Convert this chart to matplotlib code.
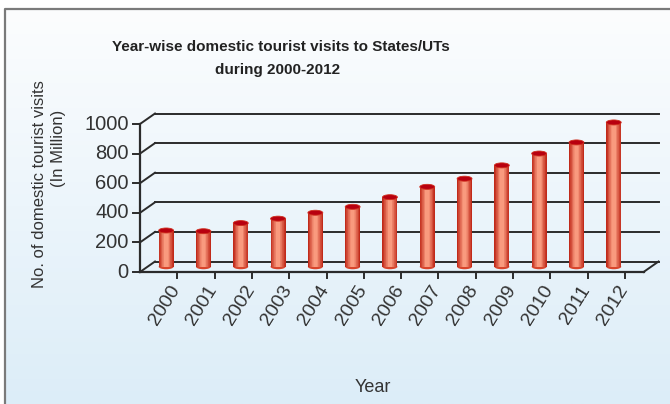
import numpy as np
import matplotlib
matplotlib.use("Agg")
from matplotlib import pyplot as plt
from matplotlib.patches import Ellipse
from matplotlib.colors import to_rgb

years = ['2000', '2001', '2002', '2003', '2004', '2005', '2006',
         '2007', '2008', '2009', '2010', '2011', '2012']
visits = [245, 240, 295, 325, 365, 405, 470, 540, 595, 685, 765, 840, 975]
y_ticks = [0, 200, 400, 600, 800, 1000]

W, H = 670, 404
plt.rcParams['font.family'] = ['Liberation Sans', 'DejaVu Sans']

fig = plt.figure(figsize=(W / 100, H / 100), dpi=100)

# background panel with light blue gradient and grey frame
bg = fig.add_axes([0, 0, 1, 1])
bg.set_xlim(0, W)
bg.set_ylim(H, 0)
bg.axis('off')
top_c = np.array(to_rgb('#fcfdfe'))
bot_c = np.array(to_rgb('#dcedf8'))
t = np.linspace(0, 1, 256)[:, None]
grad = (top_c * (1 - t) + bot_c * t)[:, None, :]
bg.imshow(grad, extent=(5, W, H, 9), aspect='auto', zorder=0)
bg.plot([4.5, 4.5, W], [H, 8.5, 8.5], color='#7a7a7a', lw=1.6, zorder=1)

# main plotting axes, mapped to pixel layout of the pseudo 3d chart
x0, unit = 140.0, 37.3      # front axis x and px per category
y0, scale = 272.0, 0.148    # baseline y and px per million
ax = fig.add_axes([0, 0, 1, 1])
ax.patch.set_alpha(0)
ax.set_xlim(-x0 / unit, (W - x0) / unit)
ax.set_ylim((y0 - H) / scale, y0 / scale)
ax.axis('off')

DX = 15 / unit
DY = 10.5 / scale
n = len(years)
xend = n + 0.5
line_c = '#2b2b2b'

# back wall grid + left wall diagonals
for v in y_ticks:
    ax.plot([DX, xend + DX], [v + DY, v + DY], color=line_c, lw=1.4, zorder=2)
    ax.plot([0, DX], [v, v + DY], color=line_c, lw=1.4, zorder=2)
    ax.plot([-0.18, 0], [v, v], color=line_c, lw=1.4, zorder=2)
    ax.text(-0.3, v, str(v), ha='right', va='center', fontsize=14.5,
            color='#333333')

# front axis and floor
ax.plot([0, 0], [0, 1000], color=line_c, lw=1.6, zorder=2)
ax.plot([0, xend], [0, 0], color=line_c, lw=1.6, zorder=5)
ax.plot([xend, xend + DX], [0, DY], color=line_c, lw=1.4, zorder=2)
for i in range(1, n + 1):
    ax.plot([i, i], [0, -6 / scale], color=line_c, lw=1.4, zorder=2)

# cylinders
pos = np.arange(n) + 0.5 + DX / 2
bw = 0.4
dark = np.array(to_rgb('#c02a1a'))
light = np.array(to_rgb('#f99a7e'))
layers = 10
for k in range(layers):
    f = k / (layers - 1)
    col = dark * (1 - f) + light * f
    ax.bar(pos, visits, width=bw * (1 - 0.85 * k / layers), bottom=DY / 2,
           color=col, linewidth=0, zorder=3)
cap_h = 5 / scale
for p, v in zip(pos, visits):
    ax.add_patch(Ellipse((p, DY / 2), bw, cap_h, color='#d9452c', lw=0, zorder=2.9))
    ax.add_patch(Ellipse((p, v + DY / 2), bw, cap_h, facecolor='#b8000f',
                         edgecolor='#d0301f', lw=0.6, zorder=4))

# year labels
for i, yr in enumerate(years):
    ax.text(i + 0.78, -70, yr, rotation=58, rotation_mode='anchor',
            ha='right', va='top', fontsize=14, color='#333333')

fig.text(281 / W, 1 - 47 / H, 'Year-wise domestic tourist visits to States/UTs',
         ha='center', va='center', fontsize=11, fontweight='bold', color='#222222')
fig.text(278 / W, 1 - 70 / H, 'during 2000-2012',
         ha='center', va='center', fontsize=11, fontweight='bold', color='#222222')
fig.text(40 / W, 1 - 184 / H, 'No. of domestic tourist visits', rotation=90,
         ha='center', va='center', fontsize=12, color='#333333')
fig.text(58 / W, 1 - 148 / H, '(In Million)', rotation=90,
         ha='center', va='center', fontsize=12, color='#333333')
fig.text(373 / W, 1 - 388 / H, 'Year', ha='center', va='center',
         fontsize=13, color='#333333')

fig.savefig('out.png', dpi=100)
